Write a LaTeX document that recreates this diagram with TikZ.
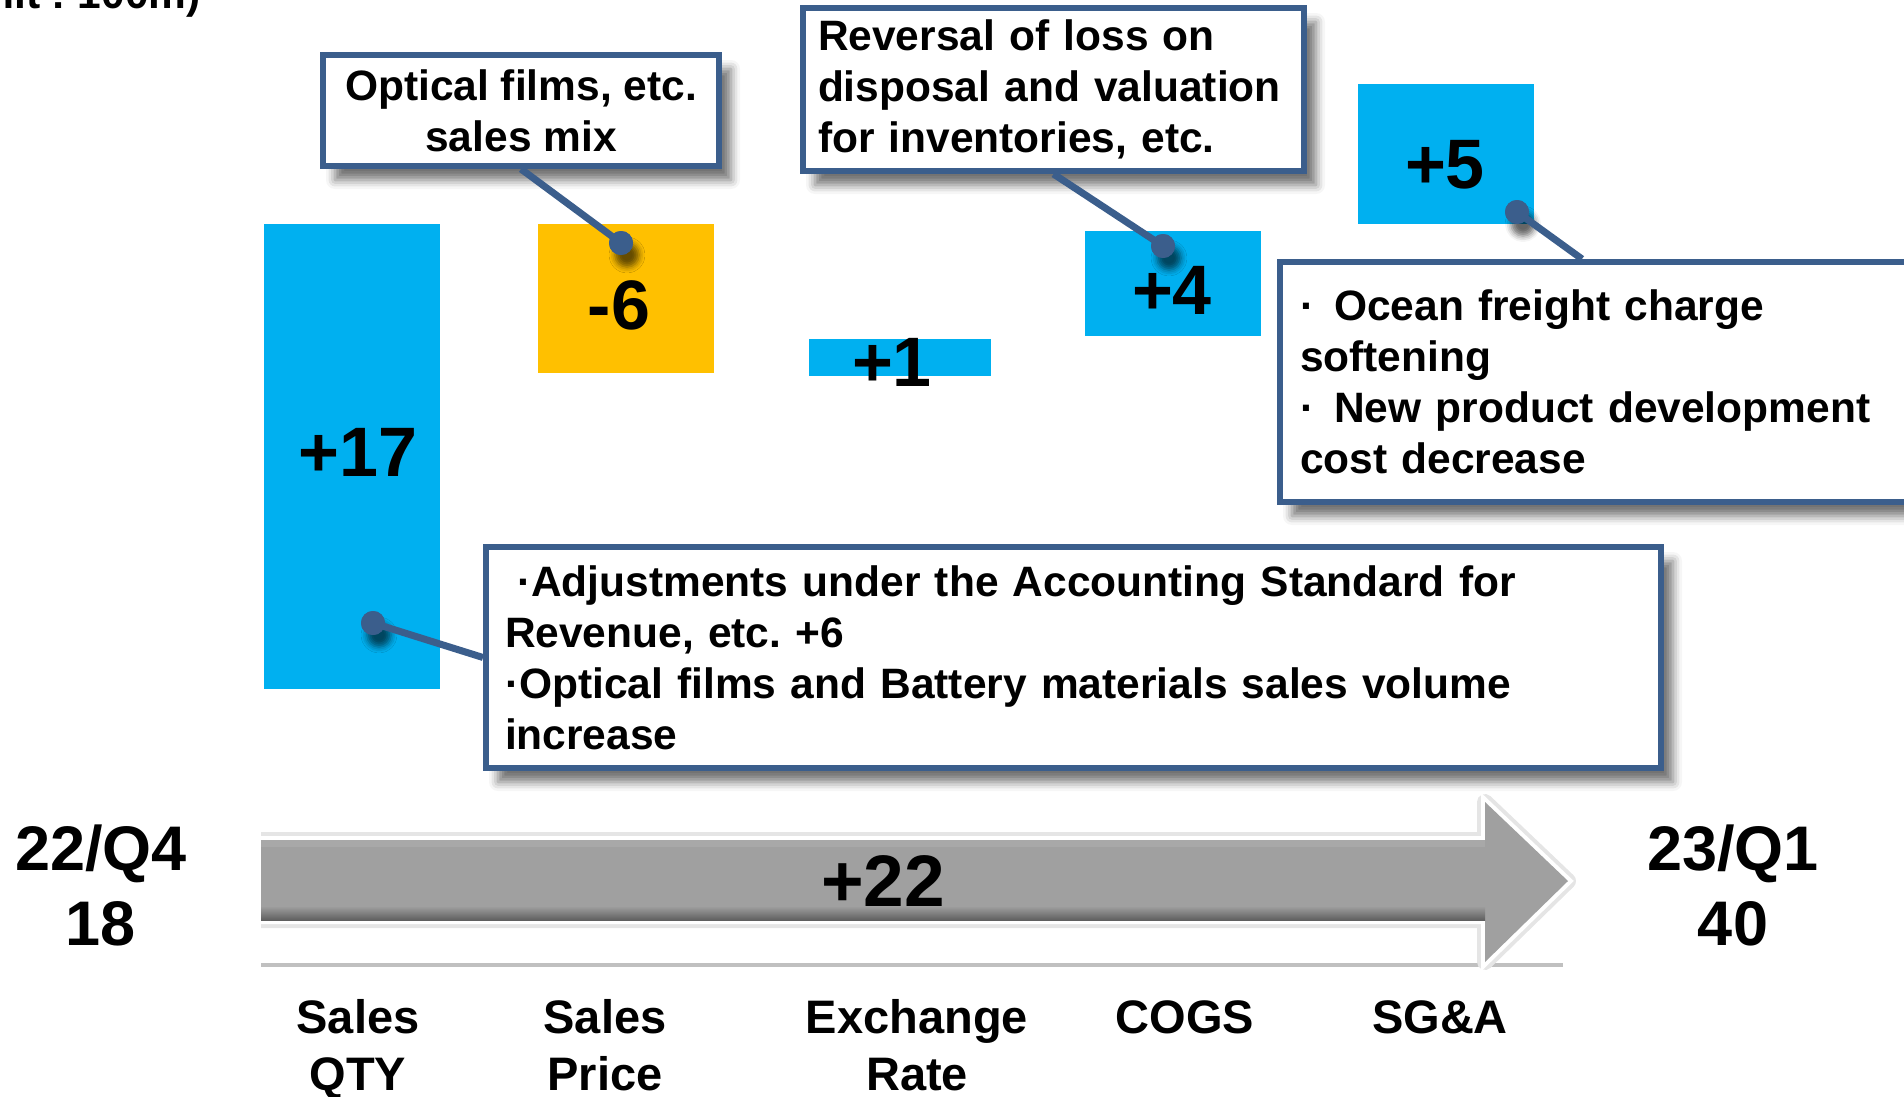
\documentclass[tikz,border=0pt]{standalone}
\usepackage{fontspec}
\setmainfont{Liberation Sans}
\frenchspacing
\usetikzlibrary{shadows.blur}
\definecolor{barblue}{RGB}{0,176,240}
\definecolor{barorange}{RGB}{255,192,0}
\definecolor{callblue}{RGB}{59,94,140}
\definecolor{arrowgray}{RGB}{160,160,160}
\definecolor{axisgray}{RGB}{192,192,192}
\begin{document}
\begin{tikzpicture}[x=1pt,y=-1pt,
  bar/.style={draw=none, anchor=north west, inner sep=0pt, outer sep=0pt},
  barlbl/.style={anchor=base, inner sep=0pt, font=\bfseries\fontsize{70}{84}\selectfont},
  sidelbl/.style={anchor=base, inner sep=0pt, align=center, font=\bfseries\fontsize{63}{75}\selectfont},
  catlbl/.style={anchor=base, inner sep=0pt, align=center, font=\bfseries\fontsize{47}{57}\selectfont},
  callout/.style={draw=callblue, line width=6pt, fill=white, inner sep=0pt,
    font=\bfseries\fontsize{42.5}{51}\selectfont,
    blur shadow={shadow xshift=12pt, shadow yshift=-14pt, shadow blur radius=9pt, shadow opacity=55}},
  conn/.style={draw=callblue, line width=7pt},
  dotnode/.style={circle, fill=callblue, inner sep=0pt, minimum size=24pt,
    blur shadow={shadow xshift=6pt, shadow yshift=-12pt, shadow blur radius=6pt, shadow opacity=60}}
]
\useasboundingbox (0,0) rectangle (1904,1097);

% unit label (cut at top, as in the reference)
\node[anchor=base east, inner sep=0pt, font=\bfseries\fontsize{42.5}{51}\selectfont] (unit) at (201,9) {(Unit : 100m)};

% bars
\node[bar, fill=barblue, minimum width=176pt, minimum height=465pt] (b17) at (263.5,223.5) {};
\node[bar, fill=barorange, minimum width=176pt, minimum height=149pt] (b6) at (538,223.5) {};
\node[bar, fill=barblue, minimum width=182pt, minimum height=37pt] (b1) at (809,339) {};
\node[bar, fill=barblue, minimum width=176pt, minimum height=105pt] (b4) at (1085,230.5) {};
\node[bar, fill=barblue, minimum width=176pt, minimum height=140pt] (b5) at (1358,84) {};

\node[barlbl] (l17) at (358,476) {+17};
\node[barlbl] (l6) at (619,329) {-6};
\node[barlbl] (l1) at (892,386) {+1};
\node[barlbl] (l4) at (1172,314) {+4};
\node[barlbl] (l5) at (1445,189) {+5};

% axis line and big arrow
\coordinate (axL) at (261,965);
\coordinate (axR) at (1563,965);
\draw[axisgray, line width=4pt] (axL) -- (axR);
\draw[gray!20, line width=16pt, line join=round] (261,840) -- (1485,840) -- (1485,802) -- (1568,881) -- (1485,962) -- (1485,920) -- (261,920);
\draw[white, line width=8pt, line join=miter] (261,840) -- (1485,840) -- (1485,802) -- (1568,881) -- (1485,962) -- (1485,920) -- (261,920);
\fill[arrowgray] (261,840) -- (1485,840) -- (1485,802) -- (1568,881) -- (1485,962) -- (1485,920) -- (261,920) -- cycle;
\fill[gray!68] (261,840) rectangle (1485,847);
\shade[top color=arrowgray, bottom color={rgb,255:red,95;green,95;blue,95}] (261,906) rectangle (1485,920);
\node[anchor=base, inner sep=0pt, font=\bfseries\fontsize{73}{88}\selectfont] (l22) at (883,906) {+22};

% side labels (base = last line)
\node[sidelbl] (start) at (101,945) {22/Q4\\18};
\node[sidelbl] (end) at (1733,945) {23/Q1\\40};

% category labels (base = last line)
\node[catlbl] (c1) at (358,1090) {Sales\\QTY};
\node[catlbl] (c2) at (605,1090) {Sales\\Price};
\node[catlbl] (c3) at (917,1090) {Exchange\\Rate};
\node[catlbl] (c4) at (1185,1033) {COGS};
\node[catlbl] (c5) at (1440,1033) {SG\&A};

% callouts
\node[callout, minimum width=396pt, minimum height=111pt, align=center] (box1) at (521,110.5)
  {Optical films, etc.\\sales mix};
\node[callout, minimum width=501pt, minimum height=163pt, text width=471pt, align=left] (box2) at (1053.5,89.5)
  {Reversal of loss on\\disposal and valuation\\for inventories, etc.};
\node[callout, minimum width=720pt, minimum height=240pt, text width=680pt, align=left] (box3) at (1640,382)
  {·\hspace{20pt}Ocean freight charge\\softening\\·\hspace{20pt}New product development\\cost decrease};
\node[callout, minimum width=1175pt, minimum height=221pt, text width=1137pt, align=left] (box4) at (1073.5,657.5)
  {\hspace*{12pt}·Adjustments under the Accounting Standard for\\Revenue, etc. +6\\·Optical films and Battery materials sales volume\\increase};

% dots and connectors
\node[dotnode] (dot1) at (621,243) {};
\node[dotnode] (dot2) at (1163,246) {};
\node[dotnode] (dot3) at (1517,212) {};
\node[dotnode] (dot4) at (373,623) {};
\coordinate (b3top) at (1582,259);

\draw[conn] (box1.south) -- (dot1.center);
\draw[conn] (box2.south) -- (dot2.center);
\draw[conn] (b3top) -- (dot3.center);
\draw[conn] (box4.west) -- (dot4.center);
\fill[callblue] (dot1) circle (12pt) (dot2) circle (12pt) (dot3) circle (12pt) (dot4) circle (12pt);
\end{tikzpicture}
\end{document}
